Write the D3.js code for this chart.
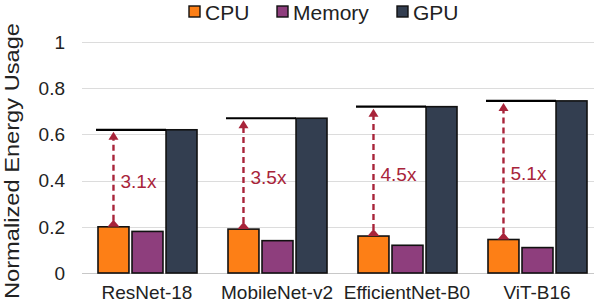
<!DOCTYPE html>
<html>
<head>
<meta charset="UTF-8">
<title>Normalized Energy Usage</title>
<style>
    body { margin: 0; background: #ffffff; }
    svg { display: block; font-family: "Liberation Sans", Arial, sans-serif; }
</style>
</head>
<body>
<div id="chart"></div>
<script src="https://d3js.org/d3.v7.min.js"></script>
<script>
// data
const models = ["ResNet-18", "MobileNet-v2", "EfficientNet-B0", "ViT-B16"];
const series = ["CPU", "Memory", "GPU"];
const cpu = [0.20, 0.19, 0.16, 0.145];
const memory = [0.18, 0.14, 0.12, 0.11];
const gpu = [0.62, 0.67, 0.72, 0.745];
const ratioLabels = ["3.1x", "3.5x", "4.5x", "5.1x"];
const yTicks = [0, 0.2, 0.4, 0.6, 0.8, 1];

const colors = { CPU: "#fd7f16", Memory: "#8e3e7d", GPU: "#333e50" };
const annoColor = "#a8243a";

const width = 594, height = 304;
const svg = d3.select("#chart").append("svg")
    .attr("width", width)
    .attr("height", height);

const x0 = d3.scaleBand().domain(models).range([82, 602]).padding(0);
const x1 = d3.scaleBand().domain(series).range([16, 115]).paddingInner(0.09).paddingOuter(0);
const y = d3.scaleLinear().domain([0, 1]).range([273, 42]);

// gridlines
svg.append("g")
    .selectAll("line")
    .data(yTicks)
    .enter().append("line")
    .attr("x1", 82).attr("x2", 602)
    .attr("y1", d => Math.round(y(d)) + 0.5)
    .attr("y2", d => Math.round(y(d)) + 0.5)
    .attr("stroke", d => d === 0 ? "#c8c8c8" : "#dcdcdc")
    .attr("stroke-width", 1.2);

// y tick labels
svg.append("g")
    .selectAll("text")
    .data(yTicks)
    .enter().append("text")
    .attr("x", 65)
    .attr("y", d => y(d))
    .attr("dy", "0.36em")
    .attr("text-anchor", "end")
    .attr("font-size", "19px")
    .attr("fill", "#222")
    .text(d => d3.format("~g")(d));

// y axis title
svg.append("text")
    .attr("transform", "translate(19,161) rotate(-90)")
    .attr("text-anchor", "middle")
    .attr("font-size", "20px")
    .attr("fill", "#222")
    .attr("textLength", 276)
    .attr("lengthAdjust", "spacingAndGlyphs")
    .text("Normalized Energy Usage");

// bars
const rows = models.map((m, i) => ({ model: m, CPU: cpu[i], Memory: memory[i], GPU: gpu[i] }));

const groups = svg.append("g")
    .selectAll("g")
    .data(rows)
    .enter().append("g")
    .attr("transform", d => `translate(${x0(d.model)},0)`);

groups.selectAll("rect")
    .data(d => series.map(s => ({ key: s, value: d[s] })))
    .enter().append("rect")
    .attr("x", d => x1(d.key))
    .attr("y", d => y(d.value))
    .attr("width", x1.bandwidth())
    .attr("height", d => y(0) - y(d.value))
    .attr("fill", d => colors[d.key])
    .attr("stroke", "#111")
    .attr("stroke-width", 1.6);

// black reference line at GPU level, from CPU bar to GPU bar
groups.append("line")
    .attr("x1", x1("CPU") - 2)
    .attr("x2", x1("GPU"))
    .attr("y1", d => y(d.GPU))
    .attr("y2", d => y(d.GPU))
    .attr("stroke", "#000")
    .attr("stroke-width", 2.2);

// dashed arrow CPU -> GPU level
const cx = x1("CPU") + x1.bandwidth() / 2;
groups.append("line")
    .attr("x1", cx).attr("x2", cx)
    .attr("y1", d => y(d.CPU) - 6)
    .attr("y2", d => y(d.GPU) + 9)
    .attr("stroke", annoColor)
    .attr("stroke-width", 2.4)
    .attr("stroke-dasharray", "6,4");

groups.append("path")
    .attr("d", d => {
        const t = y(d.GPU) + 2;
        return `M${cx},${t} L${cx - 5},${t + 8} L${cx + 5},${t + 8} Z`;
    })
    .attr("fill", annoColor);

groups.append("path")
    .attr("d", d => {
        const b = y(d.CPU);
        return `M${cx},${b - 7} L${cx - 6},${b} L${cx + 6},${b} Z`;
    })
    .attr("fill", annoColor);

groups.append("text")
    .attr("x", cx + 7)
    .attr("y", d => (y(d.CPU) + y(d.GPU)) / 2 + 3)
    .attr("dy", "0.36em")
    .attr("font-size", "19px")
    .attr("fill", annoColor)
    .text((d, i) => ratioLabels[i]);

// x labels
svg.append("g")
    .selectAll("text")
    .data(models)
    .enter().append("text")
    .attr("x", d => x0(d) + x0.bandwidth() / 2)
    .attr("y", 299)
    .attr("text-anchor", "middle")
    .attr("font-size", "19px")
    .attr("fill", "#222")
    .text(d => d);

// legend
const legendX = [189, 277, 397];
const legend = svg.append("g")
    .selectAll("g")
    .data(series)
    .enter().append("g")
    .attr("transform", (d, i) => `translate(${legendX[i]},6)`);

legend.append("rect")
    .attr("width", 11).attr("height", 11)
    .attr("fill", d => colors[d])
    .attr("stroke", "#111")
    .attr("stroke-width", 1.4);

legend.append("text")
    .attr("x", 16)
    .attr("y", 13.5)
    .attr("font-size", "21px")
    .attr("fill", "#222")
    .text(d => d);
</script>
</body>
</html>
